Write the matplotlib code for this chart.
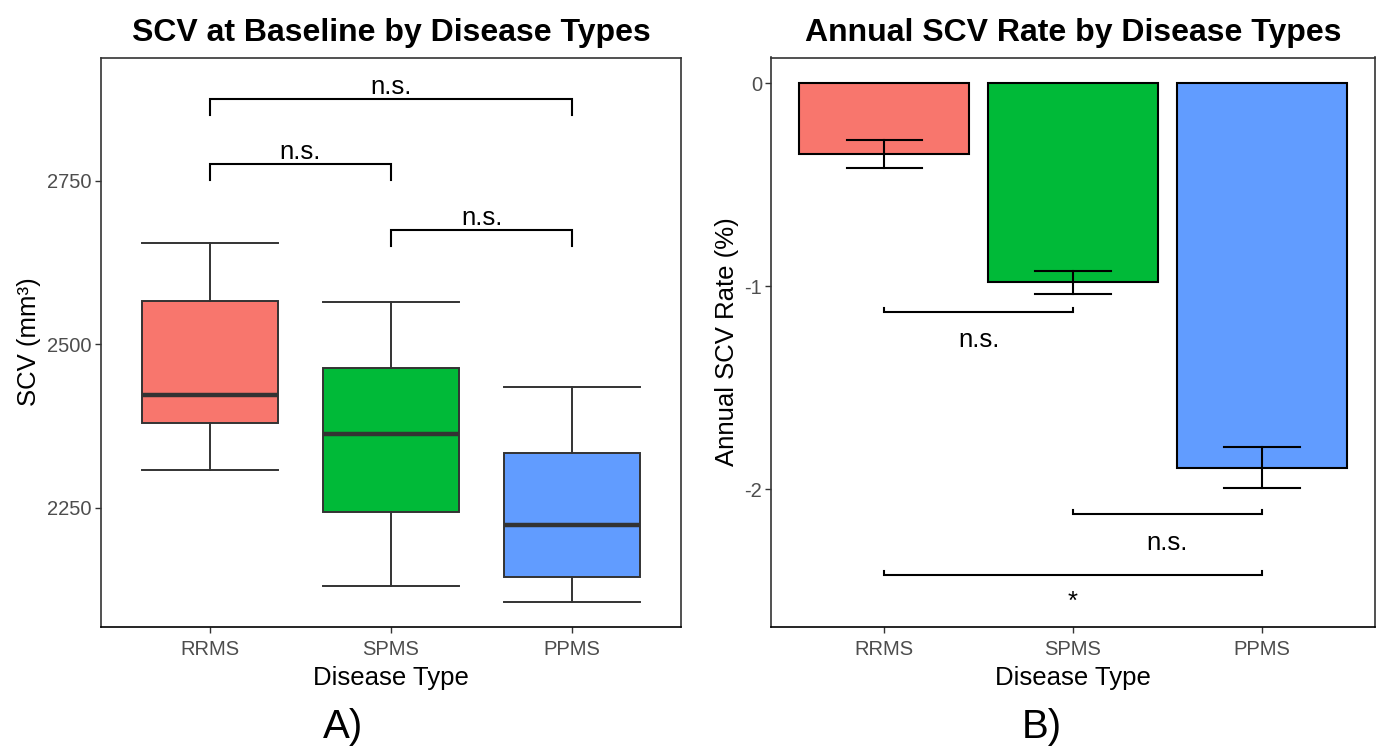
import matplotlib
matplotlib.use("Agg")
import matplotlib.pyplot as plt

plt.rcParams['font.family'] = ['Liberation Sans', 'DejaVu Sans']

# ---------------- data ----------------
categories = ["RRMS", "SPMS", "PPMS"]
colors = ["#F8766D", "#00BA38", "#619CFF"]

# Panel A: boxplot summary stats (SCV, mm^3)
whisker_low = [2307, 2130, 2106]
q1 = [2379, 2244, 2144]
median = [2422, 2362, 2224]
q3 = [2566, 2463, 2334]
whisker_high = [2655, 2565, 2435]

# Panel A significance brackets
a_pairs = [(0, 2), (0, 1), (1, 2)]
a_bracket_y = [2876, 2776, 2675]
a_labels = ["n.s.", "n.s.", "n.s."]

# Panel B: annual SCV rate (%)
rate_mean = [-0.348, -0.981, -1.894]
rate_se = [0.070, 0.056, 0.103]

b_pairs = [(0, 1), (1, 2), (0, 2)]
b_bracket_y = [-1.126, -2.123, -2.424]
b_labels = ["n.s.", "n.s.", "*"]
b_label_y = [-1.300, -2.300, -2.590]

# ---------------- figure ----------------
W, H = 1379, 746
fig = plt.figure(figsize=(W / 100, H / 100), dpi=100)

axA = fig.add_axes([101 / W, 1 - 626.5 / H, 580 / W, 569 / H])
axB = fig.add_axes([771 / W, 1 - 626.5 / H, 604 / W, 569 / H])

pos = [1, 2, 3]
edge = "#333333"
TXT = 18.5

# ---- Panel A ----
stats = []
for i in range(3):
    stats.append(dict(med=median[i], q1=q1[i], q3=q3[i],
                      whislo=whisker_low[i], whishi=whisker_high[i],
                      fliers=[], label=categories[i]))
bp = axA.bxp(stats, positions=pos, widths=0.75, capwidths=0.75,
             patch_artist=True, showfliers=False,
             boxprops=dict(edgecolor=edge, linewidth=1.4),
             whiskerprops=dict(color=edge, linewidth=1.4),
             capprops=dict(color=edge, linewidth=1.4),
             medianprops=dict(color=edge, linewidth=3.2, solid_capstyle='butt'))
for patch, c in zip(bp['boxes'], colors):
    patch.set_facecolor(c)

for (i, j), y, lab in zip(a_pairs, a_bracket_y, a_labels):
    tick = 25
    axA.plot([pos[i], pos[i], pos[j], pos[j]], [y - tick, y, y, y - tick],
             color='black', lw=1.5, solid_joinstyle='miter', clip_on=False)
    axA.annotate(lab, xy=((pos[i] + pos[j]) / 2, y), xytext=(0, 3.5),
                 textcoords='offset points', ha='center', va='baseline',
                 fontsize=TXT, color='black')

axA.set_xlim(0.4, 3.6)
axA.set_ylim(2068, 2939)
axA.set_yticks([2250, 2500, 2750])
axA.set_xticks(pos)
axA.set_xticklabels(categories)
axA.set_title("SCV at Baseline by Disease Types", fontsize=23,
              fontweight='bold', pad=12)
axA.set_xlabel("Disease Type", fontsize=TXT, labelpad=5)
axA.set_ylabel("SCV (mm³)", fontsize=TXT, labelpad=5)

# ---- Panel B ----
axB.bar(pos, rate_mean, width=0.9, color=colors, edgecolor='black',
        linewidth=1.5, zorder=2)
for p, m, s in zip(pos, rate_mean, rate_se):
    axB.plot([p, p], [m - s, m + s], color='black', lw=1.5, zorder=3)
    axB.plot([p - 0.2, p + 0.2], [m + s, m + s], color='black', lw=1.5, zorder=3)
    axB.plot([p - 0.2, p + 0.2], [m - s, m - s], color='black', lw=1.5, zorder=3)

for (i, j), y, lab, ly in zip(b_pairs, b_bracket_y, b_labels, b_label_y):
    tick = 0.02
    axB.plot([pos[i], pos[i], pos[j], pos[j]], [y + tick, y, y, y + tick],
             color='black', lw=1.5, solid_joinstyle='miter')
    axB.text((pos[i] + pos[j]) / 2, ly, lab, ha='center', va='baseline',
             fontsize=TXT, color='black')

axB.set_xlim(0.4, 3.6)
axB.set_ylim(-2.677, 0.126)
axB.set_yticks([0, -1, -2])
axB.set_yticklabels(["0", "-1", "-2"])
axB.set_xticks(pos)
axB.set_xticklabels(categories)
axB.set_title("Annual SCV Rate by Disease Types", fontsize=23,
              fontweight='bold', pad=12)
axB.set_xlabel("Disease Type", fontsize=TXT, labelpad=5)
axB.set_ylabel("Annual SCV Rate (%)", fontsize=TXT, labelpad=4)

# panel tags
fig.text(343 / W, 8 / H, "A)", ha='center', va='baseline', fontsize=29)
fig.text(1042 / W, 8 / H, "B)", ha='center', va='baseline', fontsize=29)

for ax in (axA, axB):
    for sp in ax.spines.values():
        sp.set_color('#333333')
        sp.set_linewidth(1.2)
    ax.spines['bottom'].set_color('black')
    ax.tick_params(axis='both', colors='#333333', length=4.5, width=1.0,
                   labelsize=14.5, labelcolor='#4D4D4D')
    ax.tick_params(axis='x', pad=5)
    ax.tick_params(axis='y', pad=2)

fig.savefig("out.png", dpi=100, facecolor='white')
